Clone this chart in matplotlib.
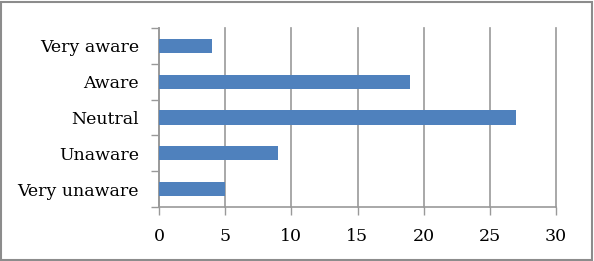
import matplotlib.pyplot as plt
from matplotlib.patches import Rectangle

categories = ["Very unaware", "Unaware", "Neutral", "Aware", "Very aware"]
values = [5, 9, 27, 19, 4]
xticks = [0, 5, 10, 15, 20, 25, 30]

plt.rcParams['font.family'] = ['DejaVu Serif']

fig = plt.figure(figsize=(5.94, 2.61), dpi=100)
ax = fig.add_axes([159 / 594, 1 - 207 / 261, (556 - 159) / 594, (207 - 28) / 261])

pos = range(len(categories))
ax.barh(pos, values, height=0.4, color="#4f81bd", zorder=3)

ax.set_xlim(0, 30)
ax.set_ylim(-0.5, len(categories) - 0.5)
ax.set_xticks(xticks)
ax.set_xticklabels([str(t) for t in xticks], fontsize=12.5)
ax.set_yticks(list(pos))
ax.set_yticklabels(categories, fontsize=12.5)
ax.tick_params(axis='y', length=0, pad=14.5)
ax.set_yticks([i - 0.5 for i in range(len(categories) + 1)], minor=True)
ax.tick_params(axis='y', which='minor', length=6, color="#999999", width=1)
ax.tick_params(axis='x', length=6, color="#999999", width=1, pad=9)

ax.grid(axis='x', color="#999999", linewidth=1.2, zorder=0)
for gl in ax.get_xgridlines():
    gl.set_clip_on(False)
for s in ['top', 'right']:
    ax.spines[s].set_visible(False)
for s in ['left', 'bottom']:
    ax.spines[s].set_color("#999999")
    ax.spines[s].set_linewidth(1.2)

fig.patches.append(Rectangle((0.002, 0.004), 0.994, 0.99, transform=fig.transFigure,
                             fill=False, edgecolor="#8c8c8c", linewidth=1.5))

fig.savefig("out.png", dpi=100)
